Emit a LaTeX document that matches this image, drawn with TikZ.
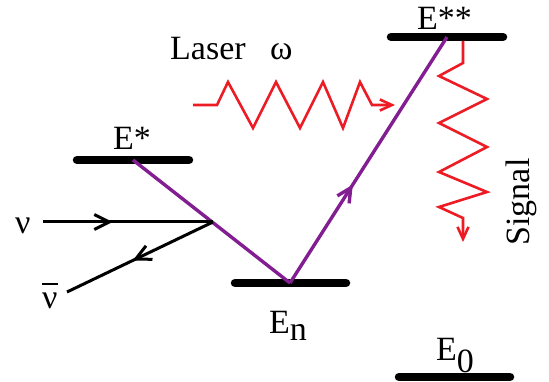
\documentclass[tikz,border=0pt]{standalone}
\usepackage{fontspec}
\setmainfont{Liberation Serif}
\usetikzlibrary{arrows.meta,decorations.markings}
\definecolor{laserred}{RGB}{237,28,36}
\definecolor{transpurple}{RGB}{130,30,145}
\begin{document}
\begin{tikzpicture}[x=1pt,y=-1pt,
  level/.style={line width=8.5pt,line cap=round},
  lbl/.style={font=\fontsize{34}{34}\selectfont, inner sep=0pt, anchor=base west},
  wave/.style={draw=laserred,line width=2.6pt,line join=miter},
  trans/.style={draw=transpurple,line width=3.4pt},
  nuline/.style={draw=black,line width=3pt},
  nubarb/.tip={Straight Barb[length=15pt,width=15pt,line width=3pt]},
  purbarb/.tip={Straight Barb[length=14pt,width=14pt,line width=3.4pt]},
  redbarb/.tip={Straight Barb[length=12pt,width=11pt,line width=2.6pt]},
  midarrow/.style 2 args={postaction={decorate},decoration={markings,mark=at position #1 with {\arrow{#2}}}}]
\useasboundingbox (0,0) rectangle (549,382);
% level bars
\coordinate (Esl) at (77,160);  \coordinate (Esr) at (189,160);
\coordinate (Enl) at (235,283); \coordinate (Enr) at (346,283);
\coordinate (Essl) at (391,37); \coordinate (Essr) at (503,37);
\coordinate (E0l) at (399,377); \coordinate (E0r) at (510,377);
\draw[level] (Esl) -- (Esr);
\draw[level] (Enl) -- (Enr);
\draw[level] (Essl) -- (Essr);
\draw[level] (E0l) -- (E0r);
% labels
\node[lbl] (tEs) at (113,150) {E*};
\node[lbl] (tEss) at (417,30) {E**};
\node[lbl] (tEn) at (269,333) {E\raisebox{-7pt}{n}};
\node[lbl] (tE0) at (436,360) {E\raisebox{-12pt}{0}};
\node[lbl] (tLaser) at (170,60) {Laser};
\node[lbl] (tomega) at (270,60) {ω};
\node[lbl] (tnu) at (15,234) {ν};
\node[lbl] (tnubar) at (42,308) {\rlap{\raisebox{23pt}{\rule{16pt}{2.2pt}}}ν};
\node[font=\fontsize{34}{34}\selectfont, inner sep=0pt, rotate=90] (tSignal) at (521,202) {Signal};
% purple transitions
\coordinate (pA) at (133,160);
\coordinate (pB) at (290,283);
\coordinate (pC) at (447,37);
\draw[trans] (pA) -- (pB);
\draw[trans,midarrow={0.4}{purbarb}] (pB) -- (pC);
% neutrino lines
\coordinate (nuS) at (43,222);
\coordinate (vx) at (213,222);
\coordinate (nubE) at (67,292);
\draw[nuline,midarrow={0.41}{nubarb}] (nuS) -- (vx);
\draw[nuline,midarrow={0.55}{nubarb}] (vx) -- (nubE);
% laser wave
\coordinate (Ls) at (193,105);
\coordinate (Le) at (395,105);
\draw[wave,-redbarb] (Ls) -- (217,105) -- (228,82) -- (253,128) -- (276,82) -- (300,128) -- (323,82) -- (343,128) -- (360,82) -- (372,105) -- (Le);
% signal wave
\coordinate (Ss) at (463,41);
\coordinate (Se) at (463,242);
\draw[wave,-redbarb] (Ss) -- (463,63) -- (439,76) -- (487,99) -- (439,123) -- (487,147) -- (439,172) -- (487,192) -- (439,207) -- (463,218) -- (Se);
\end{tikzpicture}
\end{document}
